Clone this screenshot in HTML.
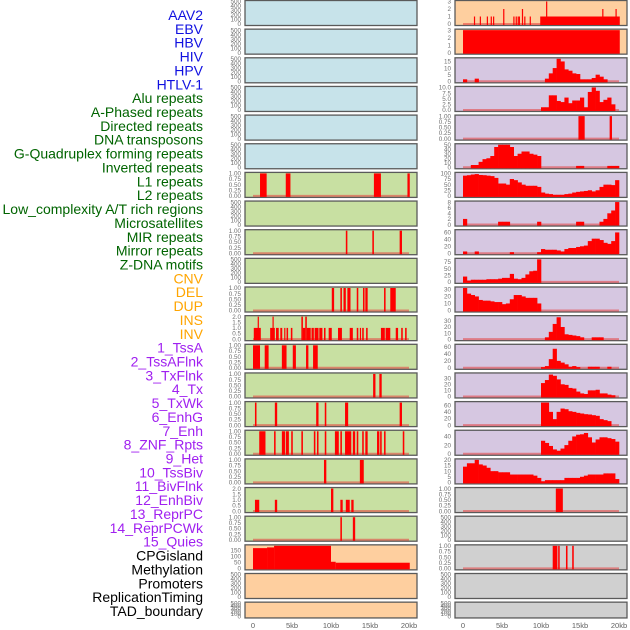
<!DOCTYPE html>
<html><head><meta charset="utf-8"><style>
html,body{margin:0;padding:0;background:#fff;}
svg{display:block;font-family:"Liberation Sans",sans-serif;}
</style></head><body>
<svg id="chart" width="630" height="630" viewBox="0 0 630 630" xmlns="http://www.w3.org/2000/svg"></svg>
<script>
// ---- data ----
const trackLabels = ["AAV2","EBV","HBV","HIV","HPV","HTLV-1","Alu repeats","A-Phased repeats","Directed repeats","DNA transposons","G-Quadruplex forming repeats","Inverted repeats","L1 repeats","L2 repeats","Low_complexity A/T rich regions","Microsatellites","MIR repeats","Mirror repeats","Z-DNA motifs","CNV","DEL","DUP","INS","INV","1_TssA","2_TssAFlnk","3_TxFlnk","4_Tx","5_TxWk","6_EnhG","7_Enh","8_ZNF_Rpts","9_Het","10_TssBiv","11_BivFlnk","12_EnhBiv","13_ReprPC","14_ReprPCWk","15_Quies","CPGisland","Methylation","Promoters","ReplicationTiming","TAD_boundary"];
const labelGroups = ["v","v","v","v","v","v","r","r","r","r","r","r","r","r","r","r","r","r","r","c","c","c","c","c","h","h","h","h","h","h","h","h","h","h","h","h","h","h","h","k","k","k","k","k"];
const xTickLabels = ["0","5kb","10kb","15kb","20kb"];
const xTickValues = [0,5,10,15,20];

// left column panels: ymax, tick labels, spikes [startKb, endKb, value]
const leftYmax = [500,500,500,500,500,500,1,500,1,500,1,2,1,1,1,1,1,2,1,188,500,500];
const leftBg = ["b","b","b","b","b","b","g","g","g","g","g","g","g","g","g","g","g","g","g","o","o","o"];
const leftSpikes = [
 [],[],[],[],[],[],
 [[0.9,1.75,1],[4.2,4.8,1],[15.5,16.4,1],[19.8,20.1,1]],
 [],
 [[11.9,12.1,1],[15.3,15.5,1],[18.8,19.1,1]],
 [],
 [[10.1,10.4,1],[11.2,11.4,1],[11.6,11.9,1],[12.1,12.5,1],[13.3,13.5,1],[14.1,14.3,1],[14.4,14.7,1],[16.8,17,1],[17.6,18.3,1]],
 [[0.1,1.0,1],[0.6,0.75,2],[2.2,2.8,1],[2.5,2.65,2],[2.95,3.3,1],[3.5,3.75,1],[4.0,4.15,1],[4.3,4.5,1],[4.85,5.05,1],[6.2,6.4,2],[6.4,6.7,1],[6.7,6.9,2],[6.9,7.4,1],[7.5,7.8,1],[7.9,8.4,1],[8.5,8.9,1],[9.1,9.3,1],[9.7,10.1,1],[10.9,11.4,1],[12.4,12.8,1],[13.3,13.5,1],[13.7,13.85,1],[14.0,14.2,1],[14.5,14.7,1],[16.4,16.9,1],[17.0,17.6,1],[18.3,18.6,1],[19.0,19.2,1],[19.5,19.7,1]],
 [[0,0.9,1],[1.5,2,1],[3.7,4.3,1],[5.1,5.5,1],[6.8,7.1,1],[7.7,8.3,1]],
 [[15.4,15.7,1],[16.2,16.5,1]],
 [[0.25,0.45,1],[2.8,3.1,1],[8.1,8.4,1],[9.2,9.4,1],[11.8,12.2,1],[18.8,19.1,1]],
 [[0.8,1.6,1],[2.7,2.9,1],[3.7,4.1,1],[4.2,4.6,1],[4.9,5.1,1],[6.2,6.4,1],[7.8,8,1],[8.2,8.4,1],[9.2,9.4,1],[10.5,11,1],[11.2,11.4,1],[11.8,12.6,1],[12.8,13.1,1],[13.3,13.5,1],[14,14.2,1],[14.4,14.7,1],[15.9,16.2,1],[16.3,16.5,1],[16.8,17,1],[19.2,19.4,1]],
 [[9.1,9.4,1],[13.7,14.2,1]],
 [[0.25,0.8,1],[2.8,3.1,1],[10,10.3,2],[11.2,11.5,1],[11.9,12.4,1],[12.6,12.9,1]],
 [[11.2,11.4,1],[12.8,13.1,1]],
 [[0,1.8,169],[1.8,2.7,175],[2.7,10,188],[10,10.6,55],[10.6,20.1,47]],
 [],[]
];
const leftTicks = {"500":["0","100","200","300","400","500"],"1":["0.00","0.25","0.50","0.75","1.00"],"2":["0.0","0.5","1.0","1.5","2.0"],"188":["0","50","100","150"]};

// right column panels: ymax, 40 bins of 0.5kb, extra spikes
const rightYmax = [3,3,17,10,1,50,100,8,65,85,32,37,65,37,68,52,20,1,500,1,500,500];
const rightBg = ["o","o","p","p","p","p","p","p","p","p","p","p","p","p","p","p","p","g","g","g","g","g"];
const rightTickSets = [["0","1","2","3"],["0","1","2","3"],["0","5","10","15"],["0.0","2.5","5.0","7.5","10.0"],["0.00","0.25","0.50","0.75","1.00"],["0","10","20","30","40","50"],["0","25","50","75","100"],["0","2","4","6","8"],["0","20","40","60"],["0","25","50","75"],["0","10","20","30"],["0","10","20","30"],["0","20","40","60"],["0","10","20","30"],["0","20","40","60"],["0","20","40"],["0","5","10","15","20"],["0.00","0.25","0.50","0.75","1.00"],["0","100","200","300","400","500"],["0.00","0.25","0.50","0.75","1.00"],["0","100","200","300","400","500"],["0","100","200","300","400","500"]];
const B = (obj)=>{const a=new Array(40).fill(0);for(const k in obj)a[+k]=obj[k];return a;};
const rightBins = [
 B({}),
 B({}),
 [1.5,0,0,2,0,0,0,0,0,0,0,0,0,0,0,0,0,0,0,0,0,2,6,10,17,15,9,8,6,5.5,1.5,1.5,1.5,2.5,5,3.5,1.5,0,0,0],
 [0,0,0,0,0,0,0,0,0,0,0,0,0,0,0,0,0,0,0,0,1.2,1.2,6.5,6.5,4,3.5,5.5,3,4.2,4.2,5.5,1.2,8,10,8.5,3.5,4.5,5.5,2.5,0],
 B({}),
 [0,0,5,5,12,18,20,25,45,50,50,50,45,25,30,35,35,30,28,25,0,0,0,0,0,0,0,0,0,3,3,0,0,0,0,0,0,3,3,3],
 [90,92,95,97,93,92,90,88,80,55,55,50,75,70,60,50,45,45,45,40,15,10,8,5,5,5,8,10,15,18,20,22,25,20,25,40,50,50,48,70],
 [2,0,0,0,0,0,0,0,0,1,1,1,0,0,0,0,0,0,0,1,0,0,0,0,0,0,0,0,0,1,1,0,0,0,0,1,2,4,5,8],
 [5,0,0,5,0,0,0,0,0,0,0,0,3,0,0,0,0,0,0,3,12,10,10,10,8,5,12,15,15,18,20,22,35,42,42,38,30,27,35,60],
 [20,5,8,8,8,8,10,10,10,12,15,15,30,12,10,15,28,40,42,85,0,0,0,0,0,0,0,0,0,0,0,0,0,0,0,0,0,0,0,0],
 [32,24,22,20,15,14,14,13,12,12,9,10,16,22,22,20,18,18,18,10,0,0,0,0,0,0,0,0,0,0,0,0,0,0,0,0,0,0,0,0],
 B({21:3,22:12,23:25,24:36,25:20,26:8,27:7,28:6,29:5,30:3,33:3,34:3,35:3}),
 B({20:2,21:5,22:25,23:55,24:20,25:15,26:10,27:3,28:5,29:2,32:3,33:3,34:3,37:3}),
 B({20:22,21:27,22:36,23:34,24:28,25:20,26:19,27:14,28:13,29:8,30:5,31:4,32:10,33:10,34:11,35:5,36:5,37:3,38:2}),
 B({20:68,21:68,22:40,23:18,24:40,25:50,26:48,27:42,28:40,29:37,30:35,31:33,32:32,33:30,34:28,35:18,36:15,37:12}),
 B({20:30,21:25,22:18,23:10,24:7,25:12,26:20,27:30,28:40,29:44,30:45,31:48,32:38,33:26,34:33,35:38,36:38,37:36,38:34,39:28}),
 [14,17,17,20,16,15,13,10,10,9,9,9,7,7,7,7,7,7,6,4,1,2,2,2,2,2,4,4,4,4,5,6,7,7,7,7,8,8,8,3],
 B({}),B({}),B({}),B({}),B({})
];
const rightSpikes = [
 [[9.9,20.1,1],[1.4,1.55,1],[2.15,2.3,1],[3.05,3.2,1],[3.55,3.7,1],[3.85,4.0,1],[5.15,5.3,2],[6.45,6.6,1],[6.75,6.9,1],[7.0,7.15,1],[7.15,7.3,1],[7.55,7.7,2],[7.85,8.0,1],[8.55,8.7,1],[10.65,10.8,3],[17.85,18.0,2],[19.55,19.7,2]],
 [[0,20.1,3]],
 [],[],
 [[14.8,15.6,1],[18.8,19.1,1]],
 [],[],[],[],[],[],[],[],[],[],[],[],
 [[11.9,12.8,1]],
 [],
 [[11.5,12.1,1],[12.2,12.4,1],[13.2,13.4,1],[14.0,14.2,1]],
 [],[]
];

// ---- rendering ----
const NS="http://www.w3.org/2000/svg";
const svg=document.getElementById("chart");
const colors={b:"#c7e3ea",g:"#c8e0a2",o:"#fecf9f",p:"#d6c7e1",gr:"#d0d0d0"};
const bgMap={b:colors.b,g:colors.g,o:colors.o,p:colors.p};
const groupColor={v:"#1010e0",r:"#006400",c:"#ffa500",h:"#a020f0",k:"#000000"};
function mk(tag,attrs){const e=document.createElementNS(NS,tag);for(const k in attrs)e.setAttribute(k,attrs[k]);return e;}
const nRows=22, rowStep=28.65, rowH=25;
function rowTop(i){return 0.5+i*rowStep;}
function rowHeight(i){return i===nRows-1?15.8:rowH;}
function xScale(col,kb){return (col===0?253:463)+kb*7.8;}
function yScale(i,v,ymax){const t=rowTop(i)+1,b=rowTop(i)+rowHeight(i)-1.5;return b-(Math.min(v,ymax)/ymax)*(b-t);}

// labels
trackLabels.forEach((t,i)=>{
  const el=mk("text",{x:203,y:15+i*13.86+5,"text-anchor":"end","font-size":"14",fill:groupColor[labelGroups[i]]});
  
  
  el.textContent=t;svg.appendChild(el);
});

function drawPanel(col,i,bg,ymax,ticks,bins,spikes,hasData){
  const x0=col===0?245:455,w=172,top=rowTop(i),h=rowHeight(i);
  const g=mk("g",{});
  
  
  const r=mk("rect",{x:x0,y:top,width:w,height:h,fill:bg,stroke:"#5a5a5a","stroke-width":"1.3"});
  
  
  g.appendChild(r);
  if(hasData){
    const bl=mk("line",{x1:xScale(col,0),x2:xScale(col,20),y1:yScale(i,0,ymax),y2:yScale(i,0,ymax),stroke:"rgba(230,60,60,0.55)","stroke-width":"2"});
    
    
    g.appendChild(bl);
  }
  if(bins){bins.forEach((v,k)=>{if(v<=0)return;
    const xa=xScale(col,k*0.5),xb=xScale(col,k*0.5+0.5),y=yScale(i,v,ymax),y0=yScale(i,0,ymax);
    const b=mk("rect",{x:xa,y:y,width:xb-xa+0.3,height:y0-y+1,fill:"#ff0000"});
    
    
    g.appendChild(b);});}
  (spikes||[]).forEach(s=>{
    const xa=xScale(col,s[0]),xb=xScale(col,s[1]),y=yScale(i,s[2],ymax),y0=yScale(i,0,ymax);
    const b=mk("rect",{x:xa,y:y,width:Math.max(xb-xa,1.2),height:y0-y+1,fill:"#ff0000"});
    
    
    g.appendChild(b);});
  // y ticks
  const tickAxis=mk("g",{});
  
  
  ticks.forEach(t=>{
    const v=parseFloat(t);
    const tx=mk("text",{x:x0-4,y:yScale(i,v,ymax)+2.2,"text-anchor":"end","font-size":"6.3",fill:"#707070"});
    
    
    tx.textContent=t;tickAxis.appendChild(tx);});
  g.appendChild(tickAxis);
  svg.appendChild(g);
}

for(let i=0;i<nRows;i++){
  const ly=leftYmax[i];
  drawPanel(0,i,bgMap[leftBg[i]],ly,leftTicks[String(ly)],null,leftSpikes[i],ly!==500);
  const ry=rightYmax[i];
  drawPanel(1,i,rightBg[i]==="g"?colors.gr:bgMap[rightBg[i]],ry,rightTickSets[i],rightBins[i],rightSpikes[i],ry!==500);
}

// x axes
[0,1].forEach(col=>{
  xTickValues.forEach((v,k)=>{
    const t=mk("text",{x:xScale(col,v),y:628,"text-anchor":"middle","font-size":"7.5",fill:"#606060"});
    
    
    t.textContent=xTickLabels[k];svg.appendChild(t);
  });
});
</script>
</body></html>
